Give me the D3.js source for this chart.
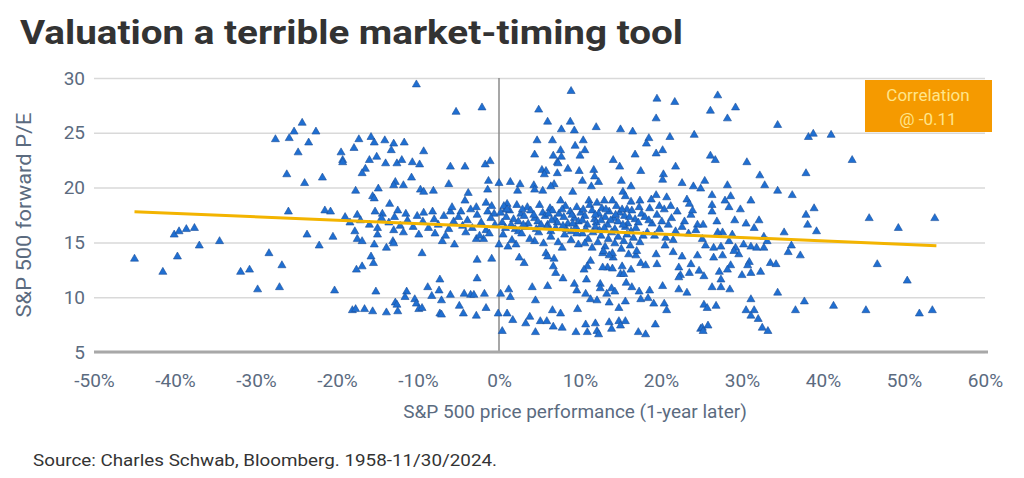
<!DOCTYPE html>
<html>
<head>
<meta charset="utf-8">
<script src="https://cdn.jsdelivr.net/npm/d3@7"></script>
<style>
  body { margin: 0; background: #fff; }
  text { font-family: Roboto, "Noto Sans", sans-serif; }
</style>
</head>
<body>
<svg id="chart" width="1024" height="478"></svg>
<script>
const xTicks = [-50, -40, -30, -20, -10, 0, 10, 20, 30, 40, 50, 60];
const yTicks = [5, 10, 15, 20, 25, 30];

// [1-year price return %, forward P/E]
const negativeYears = [
  [-45.0,13.5],[-41.5,12.3],[-40.1,15.7],[-39.5,16.0],[-38.6,16.2],[-37.6,16.3],[-37.0,14.7],[-39.7,13.7],
  [-34.5,15.1],[-31.9,12.3],[-30.8,12.5],[-29.8,10.7],[-28.4,14.0],[-26.8,12.9],[-27.1,10.9],[-23.7,15.7],
  [-22.2,14.7],[-24.3,25.9],[-25.3,25.1],[-22.6,25.1],[-27.6,24.4],[-25.9,24.5],[-23.5,24.1],[-24.8,23.2],
  [-26.2,21.2],[-24.0,20.4],[-26.0,17.8],[-10.2,29.4],[-5.3,26.9],[-2.1,27.3],[-17.3,24.4],[-15.8,24.6],
  [-15.4,24.1],[-14.1,24.3],[-13.0,24.0],[-11.7,24.1],[-17.9,23.6],[-13.3,23.4],[-19.5,23.2],[-19.3,22.5],
  [-19.3,22.3],[-9.3,23.3],[-16.0,22.5],[-15.1,22.8],[-14.0,22.2],[-12.6,22.2],[-12.0,22.5],[-10.7,22.3],
  [-9.8,22.1],[-6.0,21.9],[-4.2,21.9],[-1.7,22.1],[-1.1,22.4],[-16.5,21.7],[-16.9,21.3],[-21.8,20.9],
  [-10.8,20.9],[-12.8,20.5],[-13.0,20.2],[-11.8,20.2],[-14.9,19.9],[-17.7,19.7],[-9.7,19.8],[-9.3,19.6],
  [-8.1,19.7],[-6.2,20.3],[-3.8,19.5],[-1.3,20.6],[-1.4,19.8],[-15.6,19.2],[-15.4,19.0],[-13.5,18.5],
  [-4.2,18.8],[-1.6,18.6],[-2.8,18.2],[-21.5,17.9],[-20.8,17.8],[-17.5,17.5],[-14.4,17.6],[-11.5,17.6],
  [-9.3,17.7],[-8.2,17.8],[-6.0,17.8],[-4.7,17.8],[-1.4,17.8],[-0.6,17.6],[-20.5,15.5],[-17.8,16.0],
  [-17.5,15.3],[-16.9,15.1],[-15.0,15.7],[-15.0,16.3],[-15.4,14.8],[-13.9,14.5],[-13.1,15.1],[-13.0,14.9],
  [-15.8,13.7],[-15.5,13.1],[-16.9,12.8],[-17.6,12.5],[-9.5,14.0],[-7.0,15.1],[-5.5,14.8],[-2.8,15.3],
  [-1.9,15.3],[-2.7,13.4],[-0.9,13.5],[-2.7,11.7],[-7.3,11.6],[-8.8,10.9],[-7.4,10.6],[-20.3,10.6],
  [-15.2,10.5],[-11.4,10.5],[-11.6,10.0],[-8.3,10.1],[-6.0,10.2],[-4.3,10.3],[-3.5,10.2],[-3.1,10.2],
  [-1.8,10.3],[-7.1,9.7],[-10.4,9.8],[-12.8,9.5],[-12.6,9.3],[-10.2,9.4],[-9.9,8.9],[-9.5,9.0],
  [-4.9,9.2],[-1.6,9.0],[-18.1,8.8],[-17.7,8.9],[-16.6,8.9],[-15.6,8.7],[-13.9,8.6],[-12.5,8.7],
  [-7.3,8.5],[-7.1,8.4],[-4.4,8.5],[-2.8,8.3],[-0.1,8.5]
];

const positiveYears = [
  [0.0,20.4],[1.4,20.5],[1.0,18.5],[0.8,18.0],[0.0,14.8],[0.2,10.3],[1.0,8.5],[1.7,7.9],[0.4,6.9],
  [8.9,28.8],[19.5,28.1],[21.7,27.8],[4.9,27.1],[19.4,26.3],[6.0,26.0],[8.8,26.0],[7.7,25.3],[9.3,25.2],
  [12.0,25.5],[15.0,25.3],[16.5,25.1],[24.1,24.8],[18.5,24.5],[21.1,24.6],[4.7,24.3],[6.6,24.3],[10.4,24.3],
  [9.4,23.8],[18.2,24.0],[7.6,23.4],[10.6,23.4],[20.2,23.4],[4.4,23.0],[6.7,22.9],[7.7,22.8],[10.0,22.9],
  [19.4,23.1],[16.8,23.0],[7.2,22.3],[14.1,22.5],[7.3,22.2],[14.9,21.9],[21.8,21.9],[8.5,21.7],[9.9,21.5],
  [5.3,21.6],[5.8,21.5],[5.6,21.2],[7.2,21.3],[11.7,21.6],[17.5,21.5],[20.3,21.2],[11.8,21.0],[12.3,20.5],
  [10.3,20.6],[15.1,20.6],[20.2,20.7],[22.6,20.4],[2.6,20.3],[4.3,20.2],[6.8,20.3],[6.4,20.1],[11.4,20.1],
  [16.3,20.1],[24.0,20.1],[24.9,19.9],[2.3,19.7],[4.4,19.8],[5.4,19.7],[9.1,19.6],[15.3,19.6],[15.6,19.2],
  [19.4,19.3],[20.7,19.1],[18.8,18.9],[23.2,18.9],[7.6,18.8],[11.1,18.8],[12.1,18.6],[13.0,18.8],[14.0,18.8],
  [16.3,18.7],[17.4,18.8],[21.2,18.3],[23.5,18.5],[19.8,18.3],
  [2.1,14.8],[4.4,15.1],[2.5,13.6],[3.1,13.1],[5.8,14.0],[6.0,13.7],[6.8,13.5],[6.7,12.8],[7.0,12.2],
  [7.9,11.7],[9.8,14.8],[11.3,13.3],[10.9,12.8],[10.5,12.5],[12.8,14.0],[13.4,12.7],[12.8,12.7],[14.1,13.6],
  [14.0,12.6],[15.0,12.1],[15.2,12.8],[15.4,12.1],[16.3,12.5],[16.9,13.8],[17.5,13.1],[18.1,12.9],[19.4,13.9],
  [19.5,13.0],[20.5,14.7],[21.5,14.1],[22.2,12.7],[22.4,12.0],[22.6,13.7],[23.7,13.0],[23.5,12.2],[24.5,13.8],
  [24.7,12.4],[9.3,11.2],[9.6,10.6],[10.8,11.6],[12.5,11.2],[12.5,10.8],[13.9,10.8],[14.3,10.5],[15.7,11.3],
  [16.4,10.9],[17.3,10.5],[18.6,10.6],[20.2,11.0],[22.2,11.8],[22.2,10.7],[23.2,10.4],[10.7,10.3],[11.3,9.8],
  [12.1,9.7],[13.3,10.3],[13.6,9.5],[14.8,9.0],[15.6,9.6],[17.5,9.8],[18.4,9.9],[19.1,9.4],[20.4,9.4],
  [20.7,8.8],[9.7,8.9],[1.2,10.7],[1.4,10.0],[4.1,10.9],[4.5,9.7],[6.0,11.0],[3.8,8.2],[3.3,7.6],[6.6,8.8],
  [7.6,8.5],[5.1,7.8],[5.9,7.8],[6.7,7.3],[7.8,7.2],[4.5,6.8],[9.5,6.8],[10.7,7.5],[10.9,6.8],[11.9,7.6],
  [12.1,6.9],[12.3,6.6],[13.6,7.7],[13.9,7.1],[14.8,7.8],[15.6,7.8],[15.0,7.4],[17.2,6.8],[18.1,6.6],
  [19.3,7.5],[24.9,7.1],
  [27.0,28.4],[29.2,27.3],[26.1,27.0],[28.2,26.3],[34.4,25.7],[38.2,24.6],[38.8,24.9],[41.0,24.8],[26.1,22.9],
  [26.7,22.5],[30.6,22.3],[43.6,22.5],[32.2,21.1],[37.9,21.3],[25.4,20.6],[28.2,20.2],[32.8,20.2],[26.3,19.3],
  [28.6,19.2],[34.4,19.7],[36.2,19.3],[27.9,18.8],[31.1,18.8],[26.3,18.4],[28.4,18.2],[29.8,18.0],[38.9,18.1],
  [37.9,17.5],[26.3,17.8],[45.7,17.2],[53.8,17.2],
  [49.3,16.3],[38.1,16.6],[39.2,16.0],[35.2,15.9],[32.1,17.0],[31.5,16.3],[30.5,16.7],[29.1,17.0],[26.9,16.9],
  [25.2,16.6],[27.6,15.9],[27.0,15.9],[28.8,15.7],[32.7,15.5],[33.1,15.1],[36.1,14.7],[25.1,15.3],[25.5,14.7],
  [26.5,14.5],[27.4,14.6],[28.4,15.1],[29.2,14.5],[29.6,13.9],[29.0,14.2],[30.2,14.8],[31.1,14.6],[31.8,14.5],
  [32.7,14.5],[26.5,13.6],[27.6,13.8],[35.7,14.1],[37.2,13.8],[30.9,13.2],[30.7,12.9],[28.6,12.9],[28.2,12.5],
  [27.2,12.3],[25.3,11.9],[27.4,11.6],[30.0,12.0],[31.1,12.2],[32.3,12.3],[33.5,13.1],[34.2,13.0],[46.7,13.0],
  [50.4,11.5],[26.3,10.9],[27.4,10.9],[28.5,10.7],[34.4,10.4],[31.1,9.8],[37.7,9.6],[41.3,9.2],[45.3,8.8],
  [36.6,8.8],[25.3,9.3],[25.7,9.0],[26.8,9.2],[30.5,8.8],[31.5,8.8],[31.1,8.3],[32.0,8.0],[32.5,7.2],
  [33.2,6.9],[25.1,7.2],[25.8,7.4],[25.2,6.9],[51.9,8.5],[53.5,8.8]
];

// the crowded band around P/E 15-18, read roughly off the blob
const denseBand = [
  [-14.5,17.2],[-13.6,16.8],[-12.9,17.3],[-12.2,16.5],[-11.3,17.0],[-10.6,16.4],[-10.1,17.4],[-9.4,16.9],
  [-8.7,16.3],[-8.0,17.1],[-7.5,16.6],[-6.8,17.4],[-6.2,16.2],[-5.6,16.9],[-5.0,17.3],[-4.5,16.5],
  [-3.9,17.0],[-3.3,16.3],[-2.7,17.5],[-2.2,16.8],[-1.6,16.1],[-1.0,17.2],[-0.5,16.6],[-13.0,16.1],
  [-11.8,15.9],[-9.9,15.7],[-7.9,15.8],[-6.6,15.6],[-4.1,15.9],[-2.4,15.6],[-1.2,15.8],[-16.0,16.6],
  [-17.1,17.0],[-18.4,16.8],[-19.0,17.3],[-15.3,17.8],[-12.5,17.9],[-3.5,18.0],[-0.9,18.3],[-5.8,18.2],
  [0.6,18.3],[2.2,18.4],[3.5,18.2],[5.0,18.4],[6.3,18.1],[8.2,18.3],[9.6,18.2],[11.2,18.4],[12.7,18.1],
  [14.5,18.3],[15.8,18.0],[17.3,18.2],
  [0.2,17.7],[1.3,17.9],[2.7,17.6],[3.9,17.9],[5.4,17.7],[6.6,17.9],[7.4,17.6],[8.8,17.8],[10.1,17.7],
  [11.5,17.9],[12.3,17.6],[13.6,17.8],[14.9,17.7],[16.4,17.9],[17.6,17.6],
  [0.9,17.3],[1.8,17.1],[3.1,17.4],[4.4,17.2],[5.7,17.4],[6.9,17.1],[8.0,17.3],[9.3,17.2],[10.6,17.4],
  [11.8,17.1],[13.1,17.3],[14.2,17.2],[15.5,17.4],[16.8,17.1],[18.0,17.3],
  [0.4,16.8],[1.5,16.6],[2.4,16.9],[3.6,16.7],[4.8,16.9],[6.0,16.6],[7.2,16.8],[8.5,16.7],[9.8,16.9],
  [10.9,16.6],[12.0,16.8],[13.4,16.6],[14.7,16.9],[15.9,16.7],[17.2,16.8],
  [0.8,16.3],[2.0,16.2],[3.3,16.4],[4.6,16.2],[5.9,16.4],[7.0,16.3],[8.3,16.2],[9.5,16.4],[10.7,16.2],
  [11.9,16.4],[13.0,16.3],[14.3,16.2],[15.6,16.4],[16.9,16.3],
  [1.0,18.0],[2.9,18.0],[4.3,17.5],[6.1,17.6],[7.8,18.0],[9.0,17.5],[10.4,18.0],[11.9,17.5],[13.2,18.0],
  [14.4,17.5],[15.2,18.0],[16.1,17.3],[3.0,16.6],[5.2,16.6],[6.5,17.0],[7.9,16.5],[9.1,16.7],[10.3,17.0],
  [12.6,17.0],[13.8,17.0],[15.3,16.6],[16.3,16.0],[2.4,16.0],[6.4,16.0],[8.9,16.0],[12.4,16.1],
  [18.6,18.1],[19.5,17.5],[20.4,18.0],[21.3,17.2],[22.0,17.8],[22.9,16.9],[23.7,17.5],[24.5,16.6],
  [18.9,16.7],[19.8,16.2],[20.9,16.6],[21.8,16.0],[22.6,16.4],[23.4,15.8],[24.3,16.1],[19.2,15.6],
  [20.6,15.4],[21.5,15.2],[18.3,15.9],[23.9,17.9],[18.5,17.0],[20.1,16.9],
  [10.3,15.8],[11.0,15.3],[11.6,15.9],[12.2,15.0],[12.6,15.6],[13.1,14.6],[13.5,15.3],[13.9,15.9],
  [14.3,14.9],[14.7,15.5],[15.1,14.4],[15.4,15.1],[15.8,15.7],[16.2,14.7],[16.6,15.4],[17.0,14.2],
  [17.4,15.0],[17.8,15.6],[12.9,14.2],[14.0,14.0],[11.5,14.5],[10.6,14.9],[16.0,13.9],[13.6,13.8],
  [0.5,15.7],[1.6,15.2],[2.8,15.8],[3.8,15.3],[4.9,15.9],[5.5,14.9],[6.4,15.5],[7.3,15.0],[8.1,15.7],
  [8.9,15.2],[9.6,15.8],[7.8,14.5],[1.1,14.6]
];

const fitLine = [[-45, 17.8], [54, 14.7]];
const correlationLines = ["Correlation", "@ -0.11"];

const labelColor = "#5b6b7f";
const svg = d3.select("#chart");

const x = d3.scaleLinear().domain([-50, 60]).range([94, 985]);
const y = d3.scaleLinear().domain([5, 30]).range([352, 78]);

// title
svg.append("text")
  .attr("x", 20)
  .attr("y", 44)
  .attr("font-size", 33)
  .attr("font-weight", 700)
  .attr("fill", "#333")
  .attr("textLength", 663)
  .attr("lengthAdjust", "spacingAndGlyphs")
  .text("Valuation a terrible market-timing tool");

// y axis with gridlines
const yAxis = svg.append("g")
  .attr("transform", `translate(${x(-50)},0)`)
  .call(d3.axisLeft(y).tickValues(yTicks).tickSize(-(x(60) - x(-50))).tickPadding(9).tickFormat(d3.format("d")));
yAxis.select(".domain").remove();
yAxis.selectAll("line").attr("stroke", "#d9d9d9").attr("stroke-width", 1.5);
yAxis.selectAll("text")
  .attr("font-size", 19)
  .attr("fill", labelColor)
  .style("font-family", "Roboto, sans-serif");

// x axis labels
const xAxis = svg.append("g")
  .attr("transform", `translate(0,${y(5)})`)
  .call(d3.axisBottom(x).tickValues(xTicks).tickSize(0).tickPadding(22).tickFormat((d) => d + "%"));
xAxis.select(".domain").remove();
xAxis.selectAll("text")
  .attr("font-size", 19)
  .attr("fill", labelColor)
  .style("font-family", "Roboto, sans-serif");

// zero line
svg.append("line")
  .attr("x1", x(0)).attr("x2", x(0))
  .attr("y1", y(30)).attr("y2", y(5))
  .attr("stroke", "#8a8a8a")
  .attr("stroke-width", 1.5);

// points
const triangle = d3.symbol().type(d3.symbolTriangle).size(28);
svg.append("g")
  .selectAll("path")
  .data(negativeYears.concat(positiveYears, denseBand))
  .join("path")
  .attr("transform", (d) => `translate(${x(d[0])},${y(d[1])})`)
  .attr("d", triangle)
  .attr("fill", "#1f6fd2")
  .attr("stroke", "#1d4f99")
  .attr("stroke-width", 0.6);

// regression line
svg.append("path")
  .datum(fitLine)
  .attr("d", d3.line().x((d) => x(d[0])).y((d) => y(d[1])))
  .attr("fill", "none")
  .attr("stroke", "#f3b400")
  .attr("stroke-width", 3);

// baseline axis
svg.append("line")
  .attr("x1", x(-50)).attr("x2", x(60) + 3)
  .attr("y1", y(5)).attr("y2", y(5))
  .attr("stroke", "#a8a8a8")
  .attr("stroke-width", 3);

// correlation box
svg.append("rect")
  .attr("x", 865).attr("y", 80)
  .attr("width", 127).attr("height", 52)
  .attr("fill", "#f59a00");
svg.selectAll(".corr-text")
  .data(correlationLines)
  .join("text")
  .attr("class", "corr-text")
  .attr("x", 928)
  .attr("y", (d, i) => 101 + i * 24)
  .attr("text-anchor", "middle")
  .attr("font-size", 17)
  .attr("fill", "#ffe58a")
  .text((d) => d);

// axis titles
svg.append("text")
  .attr("transform", `translate(31,${(y(5) + y(30)) / 2}) rotate(-90)`)
  .attr("text-anchor", "middle")
  .attr("font-size", 20)
  .attr("fill", labelColor)
  .attr("textLength", 205)
  .attr("lengthAdjust", "spacingAndGlyphs")
  .text("S&P 500 forward P/E");

svg.append("text")
  .attr("x", 575)
  .attr("y", 418)
  .attr("text-anchor", "middle")
  .attr("font-size", 19)
  .attr("fill", labelColor)
  .text("S&P 500 price performance (1-year later)");

svg.append("text")
  .attr("x", 33)
  .attr("y", 466)
  .attr("font-size", 17)
  .attr("fill", "#333")
  .attr("textLength", 464)
  .attr("lengthAdjust", "spacingAndGlyphs")
  .text("Source: Charles Schwab, Bloomberg. 1958-11/30/2024.");
</script>
</body>
</html>
